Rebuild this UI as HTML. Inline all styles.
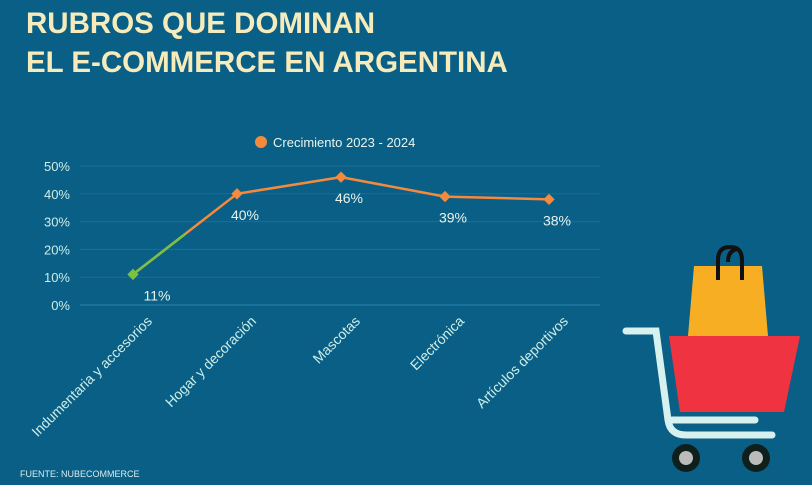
<!DOCTYPE html>
<html><head><meta charset="utf-8"><style>
body{margin:0;width:812px;height:480px;background:#0a5f87;overflow:hidden;font-family:"Liberation Sans",sans-serif}
</style></head><body>
<svg width="812" height="480">
<rect width="812" height="480" fill="#0a5f87"/>
<text x="26" y="33" font-size="29.5" font-weight="bold" fill="#f6ebbb">RUBROS QUE DOMINAN</text>
<text x="26" y="72" font-size="29.5" font-weight="bold" fill="#f6ebbb">EL E-COMMERCE EN ARGENTINA</text>
<g><circle cx="261" cy="142" r="6" fill="#f58a3c"/><text x="273" y="147" font-size="13" fill="#e8f4ec">Crecimiento 2023 - 2024</text></g>
<g id="grid"></g><g id="plot"></g>
<text x="20" y="477" font-size="9" fill="#d8ecec">FUENTE: NUBECOMMERCE</text>
<g>
<polygon points="694,266 762,266 768,336 688,336" fill="#f7ae23"/>
<path d="M718,280 V260 Q718,247 730,247 Q742,247 742,260 V280 M728,262 Q728,250 738,249" fill="none" stroke="#111" stroke-width="4"/>
<polygon points="669,336 800,336 784,412 680,412" fill="#ef3340"/>
<path d="M626,331 H656 L668,420 Q670,435 686,435 H772" fill="none" stroke="#d7f2ee" stroke-width="7" stroke-linecap="round"/>
<path d="M672,420 H755" stroke="#d7f2ee" stroke-width="7" stroke-linecap="round"/>
<circle cx="686" cy="458" r="14" fill="#0e1f1c"/><circle cx="686" cy="458" r="7" fill="#bbb"/>
<circle cx="756" cy="458" r="14" fill="#0e1f1c"/><circle cx="756" cy="458" r="7" fill="#bbb"/>
</g>
</svg>
<script>
const categories=["Indumentaria y accesorios","Hogar y decoración","Mascotas","Electrónica","Artículos deportivos"];
const values=[11,40,46,39,38];
const labels=["11%","40%","46%","39%","38%"];
const ticks=[0,10,20,30,40,50];
const NS="http://www.w3.org/2000/svg";
const y=v=>305-v*2.78, x=i=>133+i*104;
function mk(t,a,p){const e=document.createElementNS(NS,t);for(const k in a)e.setAttribute(k,a[k]);p.appendChild(e);return e;}
const g=document.getElementById('grid'),p=document.getElementById('plot');
ticks.forEach(t=>{const l=mk('line',{x1:80,x2:600,y1:y(t),y2:y(t),stroke:t==0?'#2a86ad':'#1a6f96','stroke-width':1},g);


const tx=mk('text',{x:70,y:y(t)+5,'font-size':13,fill:'#cdeee6','text-anchor':'end'},g);tx.textContent=t+'%';

});
let d=values.map((v,i)=>(i?'L':'M')+x(i)+','+y(v)).join(' ');
const ln=mk('path',{d:d,fill:'none',stroke:'#f58a3c','stroke-width':2.5},p);


const mid=[(x(0)+x(1))/2,(y(values[0])+y(values[1]))/2];
const gs=mk('line',{x1:x(0),y1:y(values[0]),x2:mid[0],y2:mid[1],stroke:'#7cc242','stroke-width':2.5},p);


values.forEach((v,i)=>{const m=mk('rect',{x:x(i)-4,y:y(v)-4,width:8,height:8,fill:i?'#f58a3c':'#7cc242',transform:`rotate(45 ${x(i)} ${y(v)})`},p);


const t=mk('text',{x:x(i)+(i?8:24),y:y(v)+26,'font-size':14,fill:'#e8f4ec','text-anchor':'middle'},p);t.textContent=labels[i];


const c=mk('text',{x:x(i)+20,y:322,'font-size':14,fill:'#cdeee6','text-anchor':'end',transform:`rotate(-45 ${x(i)+20} 322)`},p);c.textContent=categories[i];

});
</script>
</body></html>
